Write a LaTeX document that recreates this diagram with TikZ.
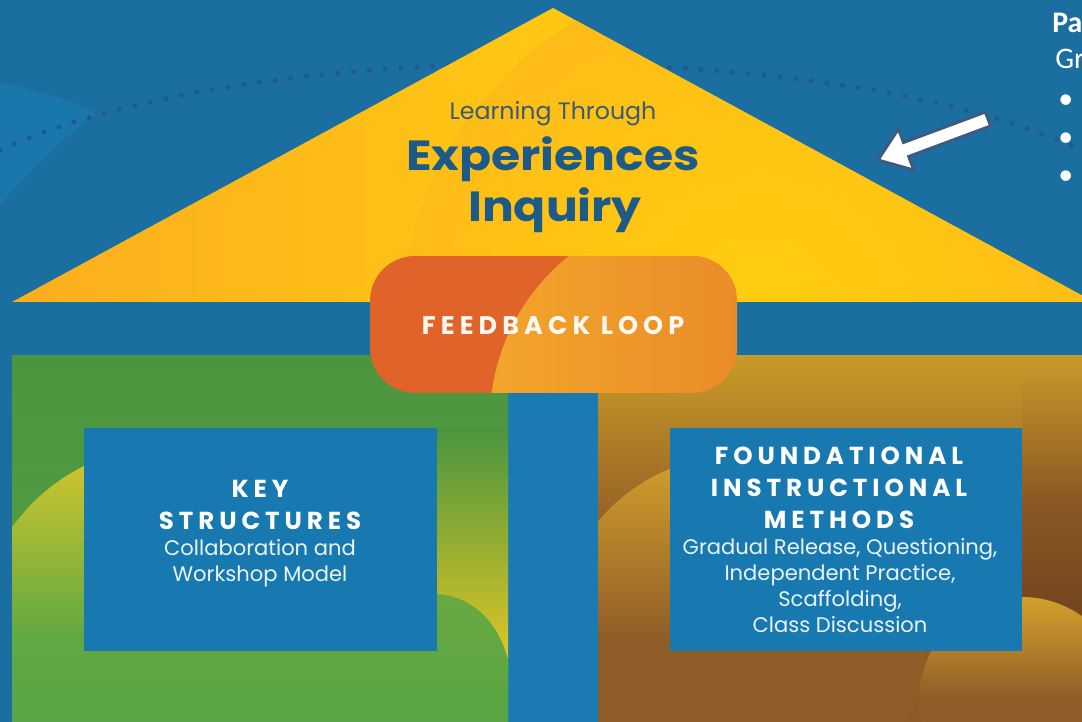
\documentclass[tikz,border=0pt]{standalone}
\usepackage{fontspec}
\setmainfont{Poppins}
\newfontfamily\calfont{Carlito}
\definecolor{bg}{HTML}{1B6EA0}
\definecolor{bglight}{HTML}{1880B6}
\definecolor{gap}{HTML}{1A7AB1}
\definecolor{boxblue}{HTML}{1879B1}
\definecolor{roofA}{HTML}{FBAD1F}
\definecolor{roofB}{HTML}{FFC713}
\definecolor{roofC}{HTML}{FFCE0E}
\definecolor{greenA}{HTML}{4A953F}
\definecolor{greenB}{HTML}{59A444}
\definecolor{gyellow}{HTML}{E6C824}
\definecolor{gcircA}{HTML}{D8C72C}
\definecolor{gcircB}{HTML}{5FA843}
\definecolor{gcircC}{HTML}{68A940}
\definecolor{brownA}{HTML}{C89A28}
\definecolor{brownM}{HTML}{8E5C26}
\definecolor{brownB}{HTML}{8C5B27}
\definecolor{brownD}{HTML}{6C3F1F}
\definecolor{bcircA}{HTML}{D3A02C}
\definecolor{bcircB}{HTML}{8E5D28}
\definecolor{fbA}{HTML}{E0642A}
\definecolor{fbB}{HTML}{F2A52B}
\definecolor{fbC}{HTML}{E67A26}
\definecolor{titleblue}{HTML}{1E5A88}
\definecolor{learn}{HTML}{3C5B70}
\definecolor{dots}{HTML}{22598F}
\definecolor{arrowline}{HTML}{3F5A80}
\definecolor{subwhite}{HTML}{EAF3F8}
\tikzset{
  hdr/.style={anchor=base, inner sep=0pt, text=white,
    font=\fontsize{14}{16}\selectfont\bfseries\addfontfeatures{LetterSpace=20}},
  sub/.style={anchor=base, inner sep=0pt, text=subwhite,
    font=\fontsize{12}{14}\selectfont},
  big/.style={anchor=base, inner sep=0pt, text=titleblue,
    font=\fontsize{24}{28}\selectfont\bfseries\addfontfeatures{FakeStretch=1.12}},
  panelbox/.style={fill=boxblue, minimum width=7.06cm, minimum height=4.46cm, inner sep=0pt},
  dotline/.style={draw=dots, line width=2.9pt, line cap=round, dash pattern=on 0pt off 9pt},
  edgetext/.style={anchor=base west, inner sep=0pt, text=white, font=\calfont\fontsize{17}{20}\selectfont},
}
\begin{document}
\begin{tikzpicture}[x=0.02cm,y=-0.02cm]
\useasboundingbox (0,0) rectangle (1082,722);
% background
\fill[bg] (0,0) rectangle (1082,722);
\fill[bglight, opacity=0.55] (0,82) .. controls (40,92) and (80,102) .. (96,114) .. controls (60,140) and (25,175) .. (0,205) -- cycle;
% dotted arc behind roof
\draw[dotline] (0,150) .. controls (250,35) and (832,35) .. (1082,150);
% roof
\begin{scope}
  \clip (12,302) -- (553,8) -- (1094,302) -- cycle;
  \shade[left color=roofA, right color=roofA, middle color=roofB] (0,0) rectangle (1082,302);
  \shade[inner color=roofC, outer color=roofB!60!roofA] (760,330) circle (360);
\end{scope}
% central gap
\fill[gap] (508,356) rectangle (598,722);
% green panel
\begin{scope}
  \clip (12,356) rectangle (508,722);
  \shade[top color=greenA, bottom color=greenB] (12,356) rectangle (508,722);
  \shade[top color=greenA, bottom color=gyellow] (437,428) rectangle (508,670);
  \shade[top color=gcircA, bottom color=gcircB, middle color=gcircB] (170,640) circle (194);
  \shade[top color=gcircC, bottom color=greenB]
    (10,651) -- (84,651) -- (84,594) -- (432,594) .. controls (470,594) and (500,620) .. (510,668)
    -- (510,724) -- (10,724) -- cycle;
\end{scope}
% brown panel
\begin{scope}
  \clip (598,356) rectangle (1082,722);
  \shade[top color=brownA, bottom color=brownB, middle color=brownM] (598,356) rectangle (1082,722);
  \shade[top color=brownA, bottom color=brownD, middle color=brownM!85!brownD] (1022,356) rectangle (1082,651);
  \shade[top color=bcircA, bottom color=bcircB, middle color=bcircB] (740,640) circle (185);
  \shade[top color=bcircA, bottom color=bcircB, middle color=bcircB] (1022,700) circle (103);
\end{scope}
% inner boxes
\node[panelbox] (keybox) at (260.5,539.5) {};
\node[panelbox] (fimbox) at (846,539.5) {};
% feedback loop
\begin{scope}
  \clip[rounded corners=0.9cm] (370,256) rectangle (737,393);
  \fill[fbA] (370,256) rectangle (737,393);
  \shade[left color=fbB, right color=fbC] (700,420) circle (210);
\end{scope}
\node[anchor=base, inner sep=0pt, text=white!95!orange,
  font=\fontsize{14.5}{16}\selectfont\bfseries\addfontfeatures{LetterSpace=20}] (fb) at (553,335) {FEEDBACK LOOP};
% roof texts
\node[anchor=base, inner sep=0pt, text=learn, font=\fontsize{13.5}{16}\selectfont] (learning) at (553,120) {Learning Through};
\node[big] (exp) at (553,171) {Experiences};
\node[big] (inq) at (555,222) {Inquiry};
% key structures
\node[hdr] (key) at (260,498) {KEY};
\node[hdr] (struct) at (260,530) {STRUCTURES};
\node[sub] (collab) at (260,556) {Collaboration and};
\node[sub] (workshop) at (260,582) {Workshop Model};
% foundational
\node[hdr] (found) at (839,465) {FOUNDATIONAL};
\node[hdr] (instr) at (839,497) {INSTRUCTIONAL};
\node[hdr] (meth) at (839,529) {METHODS};
\node[sub] (grad) at (840,555) {Gradual Release, Questioning,};
\node[sub] (indep) at (840,581) {Independent Practice,};
\node[sub] (scaff) at (840,606) {Scaffolding,};
\node[sub] (disc) at (840,632) {Class Discussion};
% right edge text
\node[edgetext, font=\calfont\bfseries\fontsize{17}{20}\selectfont] (pa) at (1052,33) {Pa};
\node[edgetext] (gr) at (1055,69) {Gr};
\node[edgetext] (b1) at (1058,109) {•};
\node[edgetext] (b2) at (1058,147) {•};
\node[edgetext] (b3) at (1058,185) {•};
% block arrow
\draw[fill=white, draw=arrowline, line width=1.7pt, line join=miter]
  (985.4,112.0) -- (903.5,142.5) -- (898.4,128.9) -- (878,160) -- (913.8,170.1)
  -- (908.7,156.5) -- (990.6,126.0) -- cycle;
\end{tikzpicture}
\end{document}
